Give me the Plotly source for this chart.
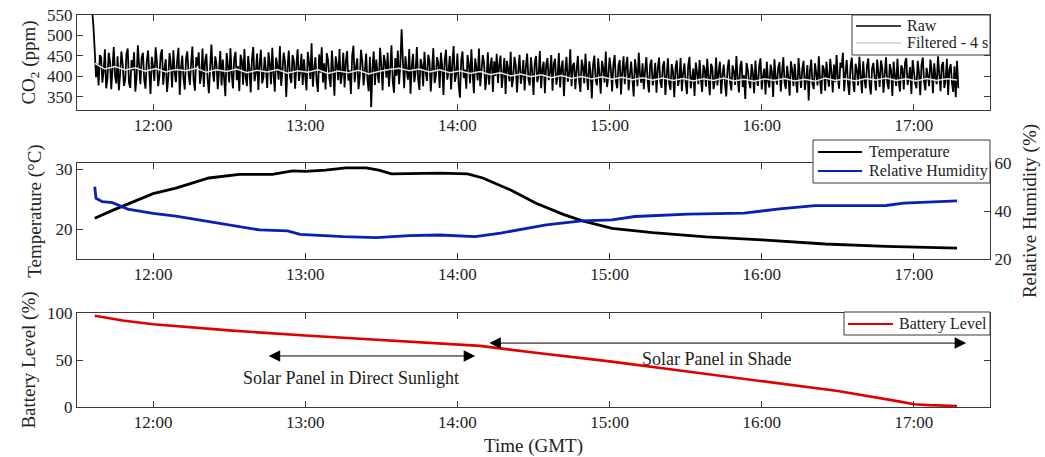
import pandas as pd
import plotly.graph_objects as go

DAY = "2000-01-01 "

# ---------------- CO2 panel data ----------------
co2_raw_start = "11:36"  # 30-second cadence
co2_raw = [
    560, 520, 462, 398, 431, 378, 452, 447, 385, 412, 466, 371, 394, 458, 438, 369, 421, 472, 402, 383,
    449, 366, 405, 461, 430, 377, 391, 455, 468, 384, 372, 440, 415, 459, 363, 398, 476, 427, 381, 446,
    458, 392, 370, 435, 463, 410, 357, 448, 424, 389, 471, 436, 376, 401, 453, 466, 380, 418, 442, 362,
    397, 457, 429, 373, 464, 411, 386, 439, 470, 355, 420, 451, 395, 368, 444, 461, 407, 379, 433, 473,
    390, 365, 447, 426, 459, 382, 403, 468, 374, 437, 455, 393, 359, 422, 478, 412, 387, 449, 431, 369,
    414, 462, 378, 441, 396, 352, 457, 428, 385, 469, 406, 371, 445, 460, 391, 425, 364, 453, 438, 380,
    467, 399, 376, 450, 419, 361, 443, 472, 388, 408, 456, 367, 430, 465, 383, 397, 448, 416, 372, 459,
    433, 381, 470, 404, 363, 446, 425, 392, 474, 377, 411, 458, 436, 350, 421, 463, 398, 384, 452, 439,
    370, 427, 466, 389, 413, 455, 379, 442, 401, 366, 460, 434, 394, 481, 375, 418, 447, 387, 362, 454,
    409, 471, 385, 432, 368, 457, 440, 396, 374, 463, 417, 353, 449, 428, 391, 467, 382, 405, 458, 373,
    436, 462, 390, 415, 357, 451, 475, 386, 423, 444, 369, 400, 465, 437, 378, 412, 456, 393, 364, 448,
    325, 420, 461, 379, 441, 407, 384, 470, 427, 366, 452, 435, 397, 458, 375, 419, 476, 388, 360, 445,
    402, 463, 381, 431, 515, 438, 371, 449, 414, 392, 467, 358, 426, 455, 386, 409, 472, 395, 367, 443,
    428, 376, 460, 411, 389, 453, 437, 363, 418, 469, 384, 400, 447, 431, 372, 458, 424, 355, 441, 465,
    392, 413, 450, 368, 432, 474, 387, 405, 456, 379, 348, 439, 461, 396, 417, 370, 452, 429, 383, 466,
    407, 359, 444, 421, 390, 468, 376, 413, 452, 433, 367, 398, 459, 380, 425, 446, 362, 437, 401, 455,
    384, 429, 451, 372, 406, 445, 357, 438, 419, 388, 460, 374, 396, 448, 427, 361, 415, 453, 382, 404,
    440, 366, 423, 456, 393, 378, 447, 412, 355, 434, 450, 386, 402, 462, 371, 418, 436, 359, 428, 445,
    391, 409, 452, 365, 431, 443, 380, 398, 457, 373, 421, 439, 352, 413, 448, 387, 404, 466, 376, 426,
    433, 369, 416, 450, 389, 362, 441, 424, 383, 455, 400, 367, 437, 412, 346, 429, 451, 392, 378, 444,
    406, 358, 438, 421, 385, 461, 374, 399, 446, 418, 363, 430, 452, 388, 371, 427, 440, 356, 411, 449,
    381, 425, 448, 366, 403, 436, 394, 351, 442, 417, 376, 458, 405, 384, 432, 369, 414, 447, 390, 361,
    428, 441, 378, 397, 433, 360, 419, 446, 386, 372, 425, 437, 355, 401, 444, 382, 367, 430, 412, 349,
    421, 439, 377, 394, 445, 364, 408, 432, 385, 357, 426, 448, 371, 396, 419, 352, 434, 409, 381, 440,
    393, 362, 428, 417, 375, 443, 399, 354, 431, 422, 369, 389, 446, 378, 410, 436, 358, 402, 429, 383,
    351, 418, 441, 386, 366, 427, 412, 379, 450, 395, 361, 424, 438, 374, 403, 345, 433, 416, 387, 371,
    430, 407, 359, 439, 392, 377, 425, 444, 368, 401, 419, 356, 436, 388, 373, 429, 411, 350, 442, 396,
    380, 422, 435, 363, 409, 447, 384, 370, 426, 398, 353, 437, 415, 376, 431, 390, 360, 445, 404, 372,
    420, 438, 367, 394, 428, 341, 413, 441, 382, 369, 432, 406, 378, 449, 391, 357, 427, 418, 365, 436,
    399, 375, 443, 411, 361, 429, 386, 452, 397, 370, 434, 421, 458, 364, 408, 440, 383, 355, 425, 446,
    387, 362, 431, 416, 378, 448, 402, 359, 437, 393, 371, 426, 444, 381, 356, 419, 433, 398, 366, 441,
    410, 374, 439, 422, 360, 405, 447, 385, 369, 430, 414, 352, 436, 401, 377, 443, 389, 363, 427, 418,
    368, 434, 445, 379, 396, 423, 357, 440, 412, 383, 371, 438, 409, 354, 429, 446, 388, 366, 421, 402,
    376, 441, 415, 359, 432, 397, 381, 449, 406, 364, 427, 435, 372, 392, 443, 355, 418, 430, 384, 362,
    425, 349, 438, 371,
]
co2_filt_start = "11:37"  # 4-minute cadence
co2_filtered = [
    432, 418, 424, 416, 421, 413, 419, 411, 417, 414,
    420, 410, 416, 412, 418, 409, 415, 411, 417, 408,
    414, 410, 416, 407, 413, 409, 415, 406, 412, 417,
    420, 414, 418, 411, 416, 409, 414, 407, 412, 404,
    409, 401, 406, 399, 404, 397, 402, 395, 400, 394,
    399, 393, 398, 392, 397, 391, 396, 390, 395, 389,
    394, 390, 396, 389, 393, 388, 394, 390, 395, 389,
    393, 388, 396, 390, 394, 389, 395, 391, 396, 390,
    394, 389, 395, 390, 394, 391,
]

# ---------------- Temperature / RH data ----------------
temp_times = ["11:37", "11:44", "12:00", "12:09", "12:22", "12:34", "12:47", "12:55", "13:00", "13:08",
              "13:16", "13:24", "13:29", "13:34", "13:53", "14:04", "14:10", "14:21", "14:31", "14:42",
              "14:49", "15:01", "15:17", "15:38", "16:00", "16:25", "16:49", "17:17"]
temperature = [21.8, 23.1, 25.9, 26.8, 28.5, 29.1, 29.1, 29.7, 29.6, 29.8,
               30.2, 30.2, 29.8, 29.2, 29.3, 29.2, 28.5, 26.5, 24.3, 22.4,
               21.4, 20.1, 19.4, 18.7, 18.2, 17.5, 17.1, 16.8]

rh_times = ["11:37", "11:37.5", "11:40", "11:44", "11:50", "12:00", "12:09", "12:29", "12:42", "12:53",
            "12:58", "13:15", "13:28", "13:41", "13:53", "14:07", "14:17", "14:35", "14:49", "15:01",
            "15:10", "15:31", "15:53", "16:07", "16:21", "16:49", "16:56", "17:17"]
humidity = [50.1, 45.3, 43.9, 43.5, 40.8, 39.0, 37.9, 34.2, 32.1, 31.7,
            30.3, 29.3, 28.9, 29.7, 30.0, 29.3, 30.8, 34.2, 35.9, 36.3,
            37.7, 38.7, 39.1, 40.9, 42.2, 42.3, 43.3, 44.2]

# ---------------- Battery data ----------------
bat_times = ["11:37", "11:48", "12:00", "12:30", "13:00", "13:30", "14:00", "14:09", "14:30", "15:00",
             "15:30", "16:00", "16:30", "16:54", "17:00", "17:06", "17:17"]
battery = [97, 92, 88, 81.5, 76, 71, 66.5, 65, 58, 48.5,
           38, 27.5, 17, 6, 3, 2, 1]

# ---------------- texts ----------------
sun_label = "Solar Panel in Direct Sunlight"
shade_label = "Solar Panel in Shade"
series_names = ["Raw", "Filtered - 4 s", "Temperature", "Relative Humidity", "Battery Level"]
series_colors = ["black", "#e6e6e6", "black", "#0a1fb4", "#e00000"]


def ts(hm):
    h, m = hm.split(":")
    return pd.Timestamp(DAY + h + ":00") + pd.Timedelta(minutes=float(m))


raw_t = pd.date_range(DAY + co2_raw_start, periods=len(co2_raw), freq="30s")
filt_t = pd.date_range(DAY + co2_filt_start, periods=len(co2_filtered), freq="4min")

FONT = "Liberation Serif"
AX = "#3a3a3a"
TXT = "#222"

fig = go.Figure()
fig.add_trace(go.Scatter(x=raw_t, y=co2_raw, mode="lines", name=series_names[0], showlegend=False,
                         line=dict(color=series_colors[0], width=1.8, simplify=False), xaxis="x", yaxis="y"))
fig.add_trace(go.Scatter(x=filt_t, y=co2_filtered, mode="lines", name=series_names[1], showlegend=False,
                         line=dict(color=series_colors[1], width=1.5), xaxis="x", yaxis="y"))
fig.add_trace(go.Scatter(x=[ts(t) for t in temp_times], y=temperature, mode="lines", name=series_names[2],
                         showlegend=False, line=dict(color=series_colors[2], width=2.8), xaxis="x2", yaxis="y2"))
fig.add_trace(go.Scatter(x=[ts(t) for t in rh_times], y=humidity, mode="lines", name=series_names[3],
                         showlegend=False, line=dict(color=series_colors[3], width=2.8), xaxis="x2", yaxis="y3"))
fig.add_trace(go.Scatter(x=[ts(t) for t in bat_times], y=battery, mode="lines", name=series_names[4],
                         showlegend=False, line=dict(color=series_colors[4], width=2.6), xaxis="x3", yaxis="y4"))

W, H = 1045, 457
ML, MR, MT, MB = 77, 55, 15, 50
PW, PH = W - ML - MR, H - MT - MB


def px_x(px):
    return (px - ML) / PW


def px_y(py):
    return 1 - (py - MT) / PH


xrange = [DAY + "11:30", DAY + "17:30"]
tickfont = dict(family=FONT, size=17, color=TXT)
titlefont = dict(family=FONT, size=19, color=TXT)

xcommon = dict(range=xrange, type="date", tickformat="%H:%M", dtick=3600000, tick0=DAY + "12:00",
               ticks="inside", ticklen=6, tickcolor=AX, showline=True, linecolor=AX, linewidth=1,
               mirror="ticks", showgrid=False, zeroline=False, tickfont=tickfont, automargin=False)
ycommon = dict(ticks="inside", ticklen=6, tickcolor=AX, showline=True, linecolor=AX, linewidth=1,
               showgrid=False, zeroline=False, tickfont=tickfont, automargin=False)

fig.update_layout(
    width=W, height=H,
    margin=dict(l=ML, r=MR, t=MT, b=MB, autoexpand=False),
    paper_bgcolor="white", plot_bgcolor="white",
    font=dict(family=FONT, color=TXT),
    showlegend=False,
    xaxis=dict(xcommon, domain=[0, 1], anchor="y"),
    yaxis=dict(ycommon, domain=[px_y(110), 1], anchor="x", range=[318, 550], dtick=50, mirror="ticks",
               title=dict(text="CO<sub>2</sub> (ppm)", font=titlefont, standoff=6)),
    xaxis2=dict(xcommon, domain=[0, 1], anchor="y2"),
    yaxis2=dict(ycommon, domain=[px_y(259), px_y(163)], anchor="x2", range=[15, 31], dtick=10,
                title=dict(text="Temperature (°C)", font=titlefont, standoff=8)),
    yaxis3=dict(ycommon, overlaying="y2", side="right", anchor="x2", range=[20, 60], dtick=20,
                title=dict(text="Relative Humidity (%)", font=titlefont, standoff=12)),
    xaxis3=dict(xcommon, domain=[0, 1], anchor="y4",
                title=dict(text="Time (GMT)", font=titlefont, standoff=14)),
    yaxis4=dict(ycommon, domain=[0, px_y(313)], anchor="x3", range=[0, 100], dtick=50, mirror="ticks",
                title=dict(text="Battery Level (%)", font=titlefont, standoff=6)),
)

# ---- legends drawn as boxed keys (box pixel extents, key rows) ----
legend_boxes = [
    # (x0, x1, y0, y1, line_x0, line_x1, text_x, [(row_y, series_index), ...])
    (852, 990, 15, 55, 856, 901, 905, [(26, 0), (43, 1)]),
    (813, 990, 140, 183, 818, 862, 867, [(152, 2), (171, 3)]),
    (844, 990, 312, 335, 848, 893, 897, [(324, 4)]),
]
for bx0, bx1, by0, by1, lx0, lx1, tx, rows in legend_boxes:
    fig.add_shape(type="rect", xref="paper", yref="paper", x0=px_x(bx0), x1=px_x(bx1),
                  y0=px_y(by1), y1=px_y(by0), fillcolor="white", line=dict(color=AX, width=1),
                  layer="above")
    for ry, si in rows:
        fig.add_shape(type="line", xref="paper", yref="paper", x0=px_x(lx0), x1=px_x(lx1),
                      y0=px_y(ry), y1=px_y(ry),
                      line=dict(color="#cccccc" if si == 1 else series_colors[si], width=2 if si > 1 else 1.3),
                      layer="above")
        fig.add_annotation(xref="paper", yref="paper", x=px_x(tx), y=px_y(ry), text=series_names[si],
                           showarrow=False, xanchor="left", yanchor="middle",
                           font=dict(family=FONT, size=16, color=TXT))

arrow = dict(xref="x3", yref="y4", axref="x3", ayref="y4", text="", showarrow=True,
             arrowhead=2, arrowsize=2.3, arrowwidth=1, arrowcolor="black",
             arrowside="end+start", standoff=0, startstandoff=0)
fig.add_annotation(arrow, x=ts("14:07"), y=54.3, ax=ts("12:45"), ay=54.3)
fig.add_annotation(arrow, x=ts("17:20.6"), y=68, ax=ts("14:12"), ay=68)
fig.add_annotation(xref="x3", yref="y4", x=ts("13:18"), y=31, text=sun_label, showarrow=False,
                   font=dict(family=FONT, size=18, color=TXT))
fig.add_annotation(xref="x3", yref="y4", x=ts("15:42"), y=51, text=shade_label, showarrow=False,
                   font=dict(family=FONT, size=18, color=TXT))

fig.write_html("out.html")
